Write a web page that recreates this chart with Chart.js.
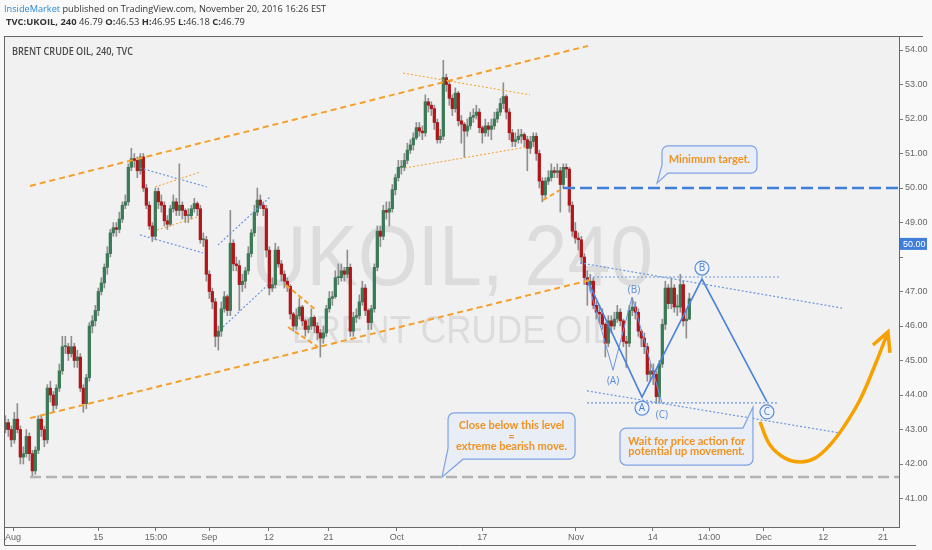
<!DOCTYPE html>
<html><head><meta charset="utf-8">
<script src="https://cdn.jsdelivr.net/npm/chart.js@4.4.1/dist/chart.umd.min.js"></script>
<style>
html,body{margin:0;padding:0;background:#f9f9f9;width:932px;height:550px;overflow:hidden;}
#wrap{position:relative;width:932px;height:550px;}
canvas{position:absolute;left:0;top:0;}
.hdr{position:absolute;left:4px;font-family:'Open Sans',sans-serif;line-height:13px;color:#333;white-space:nowrap;}
.hdr b{font-weight:700;}
</style></head><body>
<div id="wrap">
<canvas id="c" width="932" height="550" style="width:932px;height:550px"></canvas>
<div class="hdr" style="top:2px;font-size:9.2px"><span style="color:#2c8ad2">InsideMarket</span> published on TradingView.com, November 20, 2016 16:26 EST</div>
<div class="hdr" style="top:15px;left:6px;font-size:9.4px"><b>TVC:UKOIL, 240</b> 46.79 <b>O:</b>46.53 <b>H:</b>46.95 <b>L:</b>46.18 <b>C:</b>46.79</div>
</div>
<script>
// ---------- DATA (time unit: trading days since Aug 1, 2016) ----------
const firstOpen = 43.0;
const firstBarDay = -0.9;
const barStepDays = 0.3517;
const closes = [
43.2,43.0,42.7,43.3,43.0,42.2,42.3,42.8,42.3,41.8,
42.4,43.3,43.0,42.7,44.2,44.0,43.7,44.2,44.7,45.4,
45.4,45.2,45.4,45.0,45.1,44.2,43.75,44.5,46.0,46.15,
46.45,47.0,47.25,47.7,48.1,48.7,48.85,48.8,49.1,49.5,
49.6,50.6,50.85,50.8,50.5,50.9,50.0,49.5,48.9,48.6,
49.9,49.6,49.5,49.05,48.95,49.4,49.6,49.35,49.5,49.35,
49.2,49.2,49.4,49.55,49.4,48.5,48.5,47.5,47.0,46.7,
45.7,45.85,46.5,46.85,46.45,48.4,47.8,47.75,47.2,47.3,
47.6,48.1,48.7,49.3,49.65,49.5,49.4,48.2,47.1,47.2,
48.2,47.8,47.5,47.3,47.15,46.35,46.0,46.3,46.55,46.15,
45.9,46.0,46.25,46.0,45.8,45.65,45.8,46.5,46.8,46.85,
47.4,47.4,47.6,47.5,47.7,45.85,46.25,46.3,46.7,47.1,
46.45,46.1,46.5,47.7,48.75,48.6,49.35,49.3,49.4,49.95,
50.3,50.6,50.6,50.8,51.1,51.25,51.45,51.75,51.65,51.6,
52.5,52.4,52.3,51.9,51.4,51.5,53.2,53.0,52.6,52.3,
52.75,51.95,51.85,51.65,51.8,52.05,52.1,52.2,51.75,51.6,
51.8,51.7,51.8,52.0,52.2,52.45,52.65,52.2,51.6,51.35,
51.4,51.5,51.55,51.4,51.15,51.35,51.5,51.0,50.2,49.8,
50.2,50.3,50.5,50.45,50.5,50.1,50.6,50.55,49.5,48.75,
48.55,48.5,48.0,47.4,47.2,47.3,46.6,46.4,46.35,46.05,
45.5,46.15,46.0,46.2,46.4,46.15,45.55,45.5,46.45,46.55,
46.4,45.85,45.65,45.4,44.6,44.7,44.6,43.95,44.9,46.05,
47.1,46.65,47.1,46.55,46.55,47.2,46.15,46.2,46.79];
const highs = [
43.4,43.3,43.1,43.5,43.75,43.1,42.5,43.0,42.9,42.4,
42.5,43.4,43.4,43.1,44.3,44.4,44.1,44.3,44.9,45.7,
45.7,45.5,45.7,45.5,45.3,45.2,44.3,44.6,46.1,46.3,
46.6,47.1,47.4,47.8,48.3,48.8,49.0,49.0,49.3,49.6,
49.8,50.7,51.15,51.0,50.9,51.0,51.0,50.1,49.6,49.0,
50.0,50.0,49.8,49.6,49.2,49.5,49.8,49.7,50.7,49.6,
49.4,49.4,49.5,49.7,49.6,49.5,48.7,48.6,47.6,47.1,
46.8,46.0,46.7,47.0,46.9,49.35,48.5,48.0,47.9,47.5,
47.7,48.3,48.8,49.5,50.0,49.8,49.6,49.5,48.3,47.4,
48.4,48.3,47.9,47.6,47.4,47.2,46.4,46.5,46.8,46.6,
46.2,46.2,46.5,46.3,46.1,45.9,46.0,46.6,47.0,47.0,
47.6,47.8,47.8,47.7,48.2,47.8,46.4,46.5,46.9,47.3,
47.2,46.5,46.6,47.8,48.9,48.9,49.5,49.6,49.6,50.1,
50.4,50.8,50.8,51.0,51.3,51.4,51.6,51.9,51.9,51.8,
52.7,52.6,52.5,52.4,52.0,51.7,53.7,53.3,53.1,52.7,
52.9,52.8,52.1,51.9,52.0,52.2,52.3,52.4,52.3,51.8,
52.0,51.9,52.0,52.2,52.3,52.6,53.05,52.7,52.3,51.7,
51.6,51.7,51.7,51.6,51.5,51.5,51.6,51.6,51.1,50.3,
50.3,50.5,50.7,50.6,50.7,50.6,50.7,50.7,50.6,49.6,
49.0,48.7,48.6,48.1,47.6,47.5,47.4,46.7,46.6,46.5,
46.1,46.3,46.3,46.4,46.6,46.5,46.2,45.7,46.6,46.8,
46.7,46.5,45.9,45.8,45.5,44.9,44.9,44.7,45.0,46.2,
47.3,47.2,47.4,47.2,46.9,47.5,47.3,46.5,46.95];
const lows = [
42.9,42.8,42.5,42.6,42.9,42.0,42.0,42.2,42.1,41.6,
41.7,42.3,42.8,42.5,42.6,43.8,43.5,43.6,44.1,44.6,
45.2,45.0,45.1,44.8,44.8,44.1,43.5,43.6,44.4,45.8,
46.0,46.3,46.9,47.1,47.5,48.0,48.6,48.6,48.7,49.0,
49.4,49.5,50.5,50.6,50.3,50.4,49.9,49.4,48.8,48.45,
48.5,49.4,49.3,48.9,48.8,48.9,49.3,49.2,49.2,49.1,
49.0,49.0,49.1,49.3,49.2,48.4,48.3,47.3,46.8,46.5,
45.4,45.3,45.7,46.4,46.3,46.3,47.6,47.6,46.45,47.0,
47.1,47.5,48.0,48.6,49.2,49.4,49.2,48.0,46.9,47.0,
47.1,47.7,47.3,47.1,47.0,46.2,45.85,45.9,46.2,46.0,
45.7,45.8,45.9,45.8,45.6,45.1,45.5,45.7,46.4,46.6,
46.8,47.2,47.3,47.3,47.4,45.7,45.7,46.1,46.2,46.6,
46.3,45.9,45.9,46.4,47.6,48.3,48.5,49.1,48.9,49.3,
49.8,50.2,50.4,50.5,50.7,51.0,51.1,51.4,51.5,51.4,
51.5,52.2,52.1,51.7,51.3,51.3,51.4,52.8,52.4,52.1,
52.2,51.8,51.3,50.9,51.5,51.7,51.9,52.0,51.6,51.3,
51.5,51.5,51.4,51.7,51.9,52.1,52.3,52.0,51.4,51.2,
51.2,51.3,51.3,51.2,50.5,51.0,51.2,50.8,50.0,49.6,
49.7,50.1,50.2,50.3,50.3,49.3,50.0,50.3,49.3,48.6,
48.4,48.2,47.8,47.2,46.6,47.0,46.5,46.2,46.1,45.9,
45.1,45.4,45.8,45.9,46.1,46.0,45.4,44.8,45.4,46.3,
46.2,45.7,45.4,45.2,44.4,44.4,44.3,43.75,43.8,44.8,
45.9,46.5,46.5,46.4,46.3,46.4,46.0,45.65,46.18];

const xTickDays   = [0, 10, 16.76, 23, 30, 37, 45, 55, 66, 75, 81.6, 88, 95, 102];
const xTickLabels = ['Aug','15','15:00','Sep','12','21','Oct','17','Nov','14','14:00','Dec','12','21'];
const yTickValues = [41,42,43,44,45,46,47,48,49,50,51,52,53,54];
const priceTag = {value: 48.38, text: '50.00'};

// drawing objects (trading day, price)
const upperChannel = [[1.99,50.06],[67.41,54.12]];
const lowerChannel = [[1.99,43.33],[67.64,47.33]];
const extremeLevel = [[1.99,41.62],[103.9,41.62]];
const targetLevel  = [[64.48,50.0],[103.9,50.0]];
const orangeDotted = [
  [[16.65,50.03],[21.92,50.46]],
  [[16.88,48.78],[21.57,49.16]],
  [[45.72,53.33],[60.61,52.70]],
  [[45.96,50.58],[60.26,51.19]]
];
const orangeDashedShort = [
  [[32.0,47.19],[35.52,46.46]],
  [[32.24,45.97],[35.76,45.39]],
  [[62.13,49.65],[64.13,49.94]]
];
const blueDotted = [
  [[14.89,50.58],[22.74,50.03]],
  [[14.89,48.64],[22.27,48.12]],
  [[24.03,48.35],[30.13,49.74]],
  [[24.62,45.97],[30.13,47.25]],
  [[67.06,47.42],[89.92,47.42]],
  [[66.47,47.83],[97.19,46.52]],
  [[67.29,43.77],[89.68,43.77]],
  [[67.29,44.12],[96.95,42.90]]
];
const waveMain  = [[67.29,47.36],[73.74,43.94],[80.77,47.36],[88.39,43.80]];
const waveMinor = [[67.29,47.36],[70.34,44.72],[72.57,46.84],[76.08,43.77]];
const upCurve = [[87.57,43.22],[88.75,42.55],[90.5,42.17],[92.26,42.06],[94.02,42.17],[95.78,42.55],[97.54,43.13],[99.3,43.86],[101.06,44.87],[102.58,45.83]];
const upArrowHead = [[100.82,45.45],[102.58,45.83],[102.81,45.22]];
const waveLabels = [
  {text:'(A)', x:70.34, y:44.41, circle:false},
  {text:'(B)', x:72.8,  y:47.04, circle:false},
  {text:'(C)', x:76.08, y:43.42, circle:false},
  {text:'A', x:73.74, y:43.62, circle:true},
  {text:'B', x:80.77, y:47.68, circle:true},
  {text:'C', x:88.39, y:43.51, circle:true}
];
const callouts = [
  {lines:['Minimum target.'], box:[76.08,51.22,87.22,50.43], tip:[75.5,50.14], corner:'bl', a:6, b:8},
  {lines:['Close below this level','=','extreme bearish move.'], box:[51.0,43.48,65.89,42.14], tip:[50.29,41.62], corner:'bl', a:15, b:11},
  {lines:['Wait for price action for','potential up movement.'], box:[71.16,43.04,86.75,41.97], tip:[86.75,43.65], corner:'tr', a:10, b:12}
];

// ---------- STYLE ----------
const UP = '#3b7a57', DOWN = '#b0161a', WICK = '#8f8f8f';
const ORANGE = '#f5a02a', BLUE = '#4a82dc', TXT_OR = '#ef9322';

const barDay = i => firstBarDay + i * barStepDays;
const opens = closes.map((c, i) => i === 0 ? firstOpen : closes[i - 1]);
const bodyData = closes.map((c, i) => ({x: barDay(i), y: [opens[i], c]}));
const wickData = closes.map((c, i) => ({x: barDay(i), y: [lows[i], highs[i]]}));
const bodyColors = closes.map((c, i) => c >= opens[i] ? UP : DOWN);

function lineDs(pts, color, width, dash, tension) {
  return {type:'line', data: pts.map(p => ({x:p[0], y:p[1]})), borderColor: color, borderWidth: width,
    borderDash: dash || [], pointRadius: 0, fill: false, tension: tension || 0, order: 0, clip: false};
}
const datasets = [];
datasets.push(lineDs(upperChannel, ORANGE, 2, [6,4]));
datasets.push(lineDs(lowerChannel, ORANGE, 2, [6,4]));
datasets.push(lineDs(extremeLevel, '#b3b3b3', 2.5, [11,5]));
datasets.push(lineDs(targetLevel, '#3f7fdc', 2.5, [12,5]));
orangeDotted.forEach(s => datasets.push(lineDs(s, ORANGE, 1, [2,2])));
orangeDashedShort.forEach(s => datasets.push(lineDs(s, ORANGE, 2, [5,3])));
blueDotted.forEach(s => datasets.push(lineDs(s, '#6b96e2', 1.2, [2,2])));
datasets.push(lineDs(waveMain, BLUE, 1.6));
datasets.push(lineDs(waveMinor, '#6b96e2', 1));
datasets.push(lineDs(upCurve, '#f7a100', 3.5, [], 0.4));
datasets.push(lineDs(upArrowHead, '#f7a100', 3.5));
datasets.push({type:'bar', data: bodyData, backgroundColor: bodyColors, barThickness: 2.6, grouped: false, minBarLength: 1, order: 1});
datasets.push({type:'bar', data: wickData, backgroundColor: WICK, barThickness: 1, grouped: false, order: 2});

const decor = {
  id: 'decor',
  beforeDraw(chart) {
    const {ctx, chartArea: a} = chart;
    ctx.save();
    ctx.fillStyle = '#f1f1f1';
    ctx.fillRect(a.left, a.top, a.right - a.left, a.bottom - a.top);
    // watermark
    const cx = (a.left + a.right) / 2, cy = (a.top + a.bottom) / 2;
    ctx.fillStyle = '#dcdcdc';
    ctx.textAlign = 'center'; ctx.textBaseline = 'alphabetic';
    ctx.save(); ctx.translate(cx, cy + 3); ctx.scale(0.905, 1);
    ctx.font = '85px "Liberation Sans", Arial, sans-serif';
    ctx.fillText('UKOIL, 240', 0, 0); ctx.restore();
    ctx.save(); ctx.translate(cx, cy + 61); ctx.scale(0.9, 1);
    ctx.font = '39px "Liberation Sans", Arial, sans-serif';
    ctx.fillText('BRENT CRUDE OIL', 0, 0); ctx.restore();
    // pane title
    ctx.fillStyle = '#4a4a4a'; ctx.textAlign = 'left'; ctx.textBaseline = 'middle';
    ctx.font = '600 10px "Open Sans", sans-serif';
    ctx.fillText('BRENT CRUDE OIL, 240, TVC', a.left + 7, a.top + 15, 121);
    ctx.restore();
  },
  afterDraw(chart) {
    const {ctx, chartArea: a, scales: {x, y}} = chart;
    ctx.save();
    // frame
    ctx.strokeStyle = '#666'; ctx.lineWidth = 1;
    ctx.strokeRect(a.left - 0.5, a.top - 0.5, a.right - a.left + 1, a.bottom - a.top + 1);
    ctx.beginPath();
    ctx.moveTo(a.right, a.top - 0.5); ctx.lineTo(923, a.top - 0.5);
    ctx.moveTo(a.left - 0.5, a.bottom); ctx.lineTo(a.left - 0.5, 545.5);
    ctx.lineTo(916, 545.5); ctx.stroke();
    // wave labels
    waveLabels.forEach(l => {
      const px = x.getPixelForValue(l.x), py = y.getPixelForValue(l.y);
      ctx.fillStyle = '#5b8ad8'; ctx.strokeStyle = '#5b8ad8';
      ctx.textAlign = 'center'; ctx.textBaseline = 'middle';
      if (l.circle) {
        ctx.beginPath(); ctx.arc(px, py, 7, 0, Math.PI * 2);
        ctx.fillStyle = '#eef2fa'; ctx.fill(); ctx.lineWidth = 1.2; ctx.stroke();
        ctx.fillStyle = '#4a7fd6';
        ctx.font = '10px "Open Sans", sans-serif';
        ctx.fillText(l.text, px, py + 0.5);
      } else {
        ctx.font = '10px "Open Sans", sans-serif';
        ctx.fillText(l.text, px, py);
      }
    });
    // callouts
    callouts.forEach(c => {
      const x1 = x.getPixelForValue(c.box[0]), y1 = y.getPixelForValue(c.box[1]);
      const x2 = x.getPixelForValue(c.box[2]), y2 = y.getPixelForValue(c.box[3]);
      const tip = [x.getPixelForValue(c.tip[0]), y.getPixelForValue(c.tip[1])];
      const r = 6;
      ctx.beginPath();
      ctx.moveTo(x1 + r, y1);
      if (c.corner === 'tr') { ctx.lineTo(x2 - c.a, y1); ctx.lineTo(tip[0], tip[1]); ctx.lineTo(x2, y1 + c.b); }
      else { ctx.lineTo(x2 - r, y1); ctx.arcTo(x2, y1, x2, y1 + r, r); }
      ctx.lineTo(x2, y2 - r); ctx.arcTo(x2, y2, x2 - r, y2, r);
      if (c.corner === 'bl') { ctx.lineTo(x1 + c.a, y2); ctx.lineTo(tip[0], tip[1]); ctx.lineTo(x1, y2 - c.b); }
      else { ctx.lineTo(x1 + r, y2); ctx.arcTo(x1, y2, x1, y2 - r, r); }
      ctx.lineTo(x1, y1 + r); ctx.arcTo(x1, y1, x1 + r, y1, r);
      ctx.closePath();
      ctx.fillStyle = '#e8edf6'; ctx.fill();
      ctx.strokeStyle = '#7ea3e2'; ctx.lineWidth = 1.2; ctx.stroke();
      ctx.fillStyle = TXT_OR; ctx.textAlign = 'center'; ctx.textBaseline = 'middle';
      ctx.font = 'bold 11px Lato, "Open Sans", sans-serif';
      const lh = 10.5, mid = (y1 + y2) / 2, cxm = (x1 + x2) / 2;
      c.lines.forEach((t, i) => ctx.fillText(t, cxm, mid + (i - (c.lines.length - 1) / 2) * lh));
    });
    // price tag
    const ty = y.getPixelForValue(priceTag.value);
    ctx.fillStyle = '#3f7fd9';
    ctx.fillRect(a.right + 1, ty - 6, 27, 12);
    ctx.fillStyle = '#ffffff'; ctx.font = '9px "Liberation Sans", Arial, sans-serif';
    ctx.textAlign = 'left'; ctx.textBaseline = 'middle';
    ctx.fillText(priceTag.text, a.right + 4, ty + 0.5);
    ctx.restore();
  }
};

new Chart(document.getElementById('c'), {
  type: 'bar',
  data: {datasets},
  options: {
    responsive: false, animation: false, devicePixelRatio: 1, events: [],
    layout: {padding: {left: 5, top: 37, right: 0, bottom: 0}},
    plugins: {legend: {display: false}, tooltip: {enabled: false}},
    scales: {
      x: {
        type: 'linear', min: -0.94, max: 103.87, offset: false,
        grid: {display: true, drawOnChartArea: false, drawTicks: true, tickLength: 4, color: '#777', offset: false},
        border: {display: false},
        afterBuildTicks: s => { s.ticks = xTickDays.map(v => ({value: v})); },
        afterFit: s => { s.height = 23; s.paddingLeft = 0; s.paddingRight = 0; },
        ticks: {autoSkip: false, maxRotation: 0, padding: 1, color: '#666',
          font: {family: '"Liberation Sans", Arial, sans-serif', size: 9},
          callback: (v, i) => xTickLabels[i]}
      },
      y: {
        type: 'linear', position: 'right', min: 40.174, max: 54.377, beginAtZero: false,
        grid: {display: true, drawOnChartArea: false, drawTicks: true, tickLength: 4, color: '#777'},
        border: {display: false},
        afterBuildTicks: s => { s.ticks = yTickValues.map(v => ({value: v})); },
        afterFit: s => { s.width = 33; },
        ticks: {padding: 2, color: '#666', font: {family: '"Liberation Sans", Arial, sans-serif', size: 9},
          callback: v => v === 48 ? '' : v.toFixed(2)}
      }
    }
  },
  plugins: [decor]
});
</script>
</body></html>
